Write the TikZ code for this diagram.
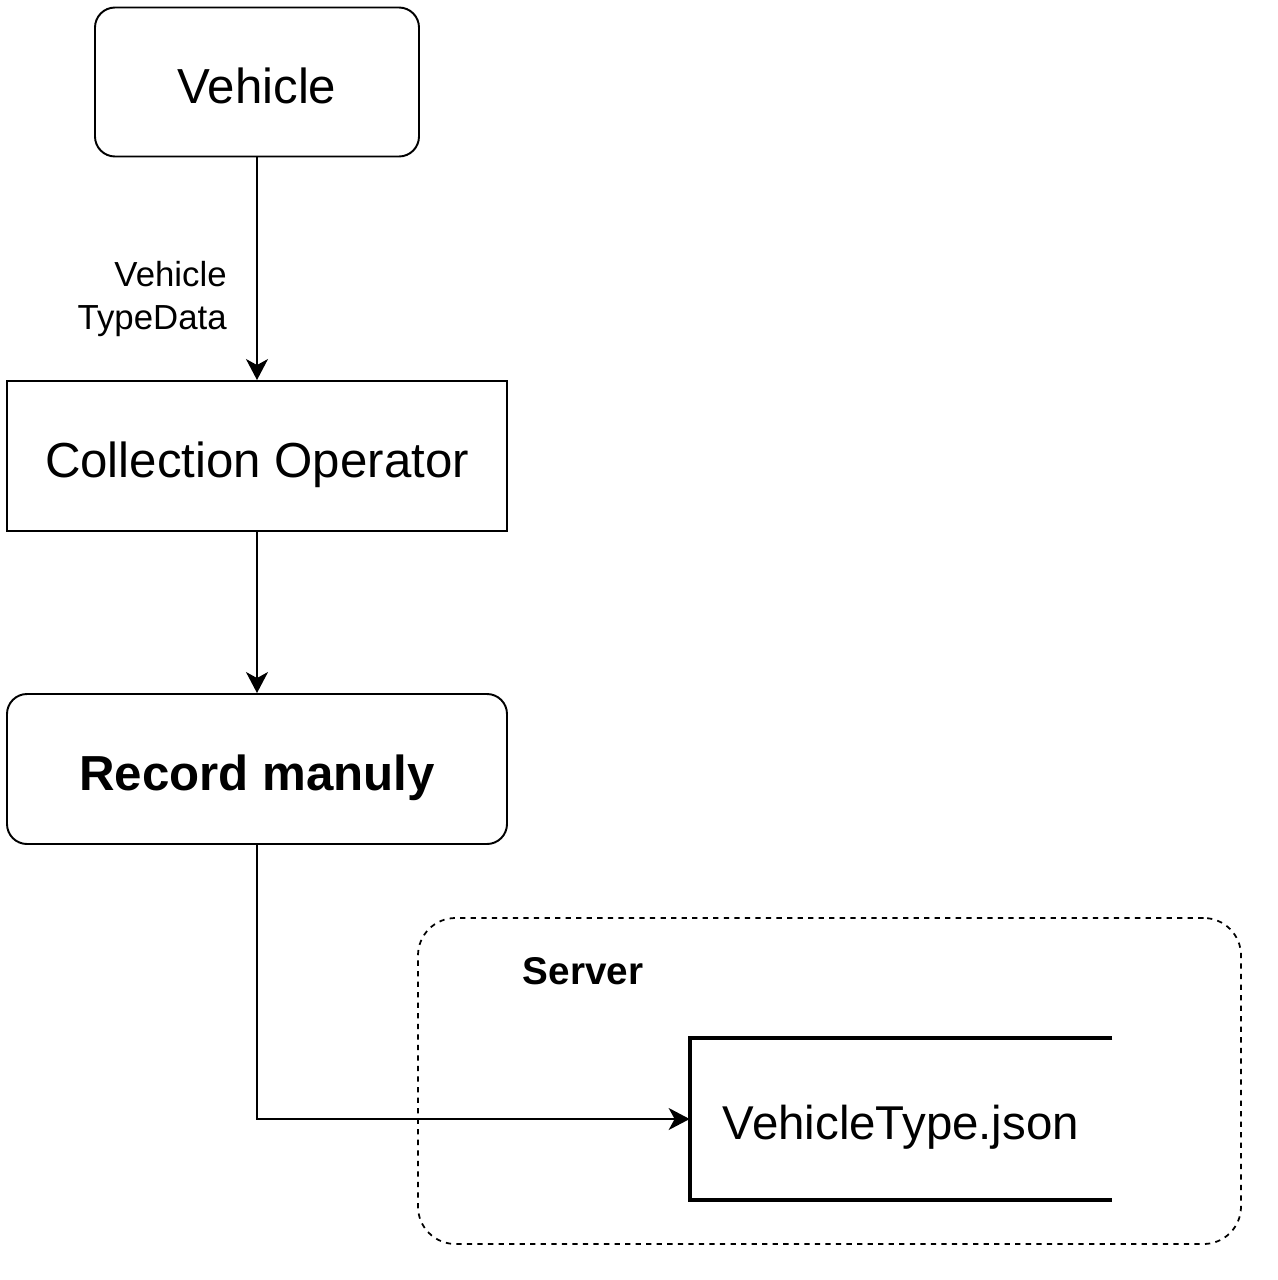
\documentclass[tikz,border=0pt]{standalone}
\usepackage{fontspec}
\setmainfont{Liberation Sans}
\usetikzlibrary{arrows.meta,positioning}

\tikzset{
  bigtext/.style={font=\fontsize{28}{34}\selectfont, text height=24.6pt, text depth=0pt},
  rbox/.style={draw, line width=1.1pt, rounded corners=0.4cm, align=center, bigtext},
  sbox/.style={draw, line width=1.1pt, align=center, bigtext},
  flow/.style={line width=1.1pt, -{Stealth[length=0.42cm, width=0.44cm, inset=0.12cm]}},
  storeline/.style={line width=2.3pt},
}

\begin{document}
\begin{tikzpicture}
  \useasboundingbox (0,0) rectangle (25.54,-25.6);
  % Kasten
  \node[rbox, minimum width=6.48cm, minimum height=2.98cm] (vehicle) at (5.14,-1.64) {Vehicle};
  \node[sbox, minimum width=10cm, minimum height=3cm] (collect) at (5.14,-9.12) {Collection Operator};
  \node[rbox, minimum width=10cm, minimum height=3cm, font=\fontsize{28}{34}\selectfont\bfseries] (record) at (5.14,-15.38) {Record manuly};
  % Server
  \node[draw, dashed, line width=1pt, rounded corners=0.75cm, minimum width=16.46cm, minimum height=6.52cm] (server) at (16.59,-21.62) {};
  \node[font=\fontsize{22}{26}\selectfont\bfseries] (serverlabel) at (11.66,-19.42) {Server};
  \node[minimum width=8.44cm, minimum height=3.24cm, inner sep=0pt, font=\fontsize{27}{32}\selectfont, text height=23.8pt, text depth=0pt] (json) at (18.02,-22.38) {VehicleType.json};
  \draw[storeline] (json.north east) -- (json.north west) -- (json.south west) -- (json.south east);
  % Pfeile
  \draw[flow] (vehicle) -- node[left=0.47cm, align=right, font=\fontsize{19.8}{24.5}\selectfont, yshift=-0.6cm] {Vehicle\\TypeData} (collect);
  \draw[flow] (collect) -- (record);
  \draw[flow] (record.south) |- (json.west);
\end{tikzpicture}
\end{document}
